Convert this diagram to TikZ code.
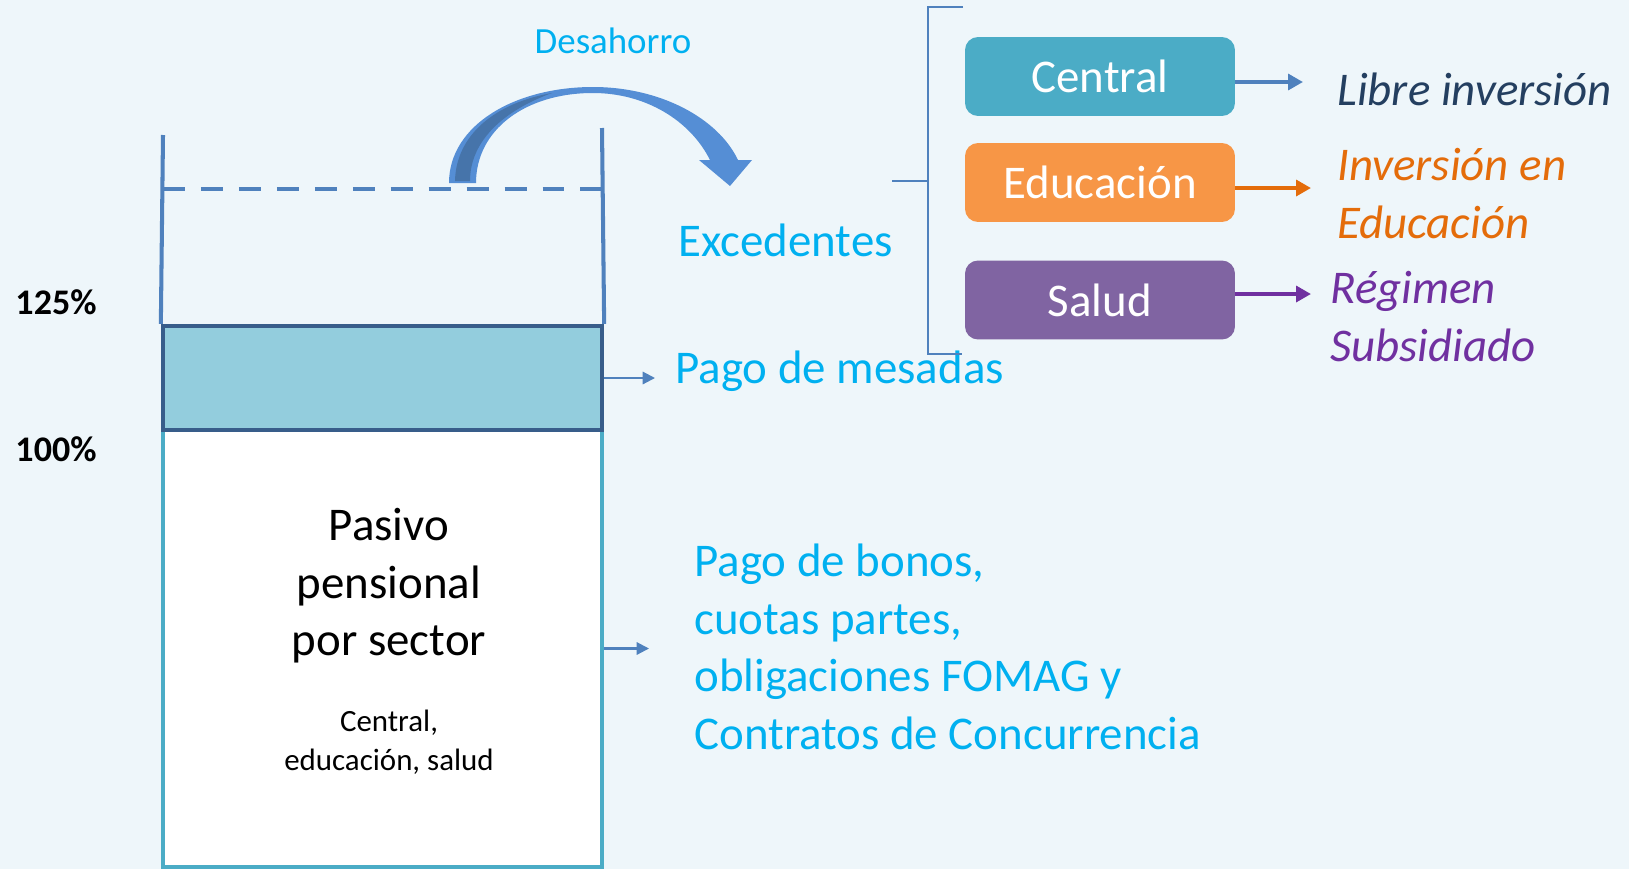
\documentclass[tikz,border=0pt]{standalone}
\usepackage{fontspec}
\setmainfont{Carlito}
\usetikzlibrary{arrows.meta, positioning}
\usepackage{xcolor}
\definecolor{bgblue}{RGB}{238, 246, 250}
\definecolor{textcyan}{RGB}{0, 176, 240}
\definecolor{wallblue}{RGB}{79, 129, 189}
\definecolor{banddark}{RGB}{56, 93, 138}
\definecolor{bandfill}{RGB}{147, 205, 221}
\definecolor{aqua}{RGB}{75, 172, 198}
\definecolor{orangebox}{RGB}{247, 150, 70}
\definecolor{purplebox}{RGB}{128, 100, 162}
\definecolor{navytext}{RGB}{36, 63, 96}
\definecolor{orangetext}{RGB}{228, 108, 10}
\definecolor{purpletext}{RGB}{112, 48, 160}
\definecolor{arrowblue}{RGB}{85, 142, 213}
\definecolor{arrowshade}{RGB}{70, 116, 170}
\newcommand{\bigtext}{\fontsize{26.7}{32.8}\selectfont}
\newcommand{\smalltext}{\fontsize{17.6}{22.5}\selectfont}

\begin{document}
\begin{tikzpicture}[
    x=0.02cm, y=-0.02cm,
    sector/.style={rectangle, rounded corners=0.26cm, minimum width=5.4cm, minimum height=1.58cm, text=white, font=\bigtext},
    note/.style={font=\bigtext, color=textcyan, align=left, inner sep=0pt},
    outcome/.style={font=\bigtext\itshape, align=left, inner sep=0pt},
    wall/.style={line width=2.3pt, color=wallblue},
    smallarrow/.style={-{Triangle[length=7pt, width=7pt]}, line width=1.2pt, color=wallblue},
    sectorarrow/.style={-{Triangle[length=8.5pt, width=9pt]}, line width=2.3pt},
    bracketline/.style={line width=1.1pt, color=wallblue},
]

% Background
\fill[bgblue] (0,0) rectangle (1629,869);
\useasboundingbox (0,0) rectangle (1629,869);

% Container
\node[rectangle, draw=aqua, fill=white, line width=2.3pt, minimum width=8.78cm, minimum height=8.74cm] (reserve) at (382.5,648.5) {};
\node[rectangle, draw=banddark, fill=bandfill, line width=2.5pt, minimum width=8.78cm, minimum height=2.08cm] (band) at (382.5,378) {};
\draw[wall] (163,135) -- (band.north west);
\draw[wall] (602,128) -- (band.north east);
\draw[wall, dash pattern=on 12.5pt off 9.1pt] (163,189) -- (602,189);

\node[font=\fontsize{20.5}{24}\selectfont\bfseries] (level125) at (56,302) {125\%};
\node[font=\fontsize{20.5}{24}\selectfont\bfseries] (level100) at (56,449) {100\%};

\node[font=\bigtext, align=center, inner sep=0pt] (pasivo) at (389,586) {Pasivo\\pensional\\por sector};
\node[font=\smalltext, align=center, inner sep=0pt] (sectores) at (389,742) {Central,\\educación, salud};

% Desahorro arrow
\fill[arrowblue] (449,183) .. controls (449,125) and (515,87) .. (593,87)
    .. controls (660,87) and (718,118) .. (738,160) -- (752,160) -- (730,186) -- (699,160) -- (710,160)
    .. controls (690,120) and (645,93) .. (593,93)
    .. controls (525,93) and (476,130) .. (476,183) -- cycle;
\fill[arrowshade] (455,181) .. controls (456,135) and (495,103) .. (552,93)
    .. controls (505,110) and (470,140) .. (470,181) -- cycle;
\node[font=\fontsize{21}{25}\selectfont, color=textcyan, anchor=base] (desahorro) at (613,53) {Desahorro};

% Labels
\node[note, anchor=base west] (excedentes) at (678,256) {Excedentes};
\node[note, anchor=base west] (mesadas) at (675,383) {Pago de mesadas};
\node[note, anchor=west] (bonos) at (694,647) {Pago de bonos,\\cuotas partes,\\obligaciones FOMAG y\\Contratos de Concurrencia};

\draw[smallarrow, shorten >=0.4cm] (band.east) -- (band.east -| mesadas.west);
\draw[smallarrow, shorten >=0.9cm] (reserve.east) -- (reserve.east -| bonos.west);

% Bracket
\draw[bracketline] (963,7) -- (928,7) -- (928,354) -- (962,354);
\draw[bracketline] (892,181) -- (928,181);

% Sectors
\node[sector, fill=aqua] (central) at (1100,76.5) {Central};
\node[sector, fill=orangebox] (educacion) at (1100,182.5) {Educación};
\node[sector, fill=purplebox] (salud) at (1100,300) {Salud};

\node[outcome, color=navytext, anchor=base west] (libre) at (1337,105) {Libre inversión};
\node[outcome, color=orangetext, anchor=west] (inversion) at (1337,193.5) {Inversión en\\Educación};
\node[outcome, color=purpletext, anchor=west] (regimen) at (1330,316.5) {Régimen\\Subsidiado};

\coordinate (librehead) at (1303,82);
\coordinate (inversionhead) at (1311,188);
\coordinate (regimenhead) at (1311,294);
\draw[sectorarrow, wallblue] (central.east |- librehead) -- (librehead);
\draw[sectorarrow, orangetext] (educacion.east |- inversionhead) -- (inversionhead);
\draw[sectorarrow, purpletext] (salud.east |- regimenhead) -- (regimenhead);

\end{tikzpicture}
\end{document}
